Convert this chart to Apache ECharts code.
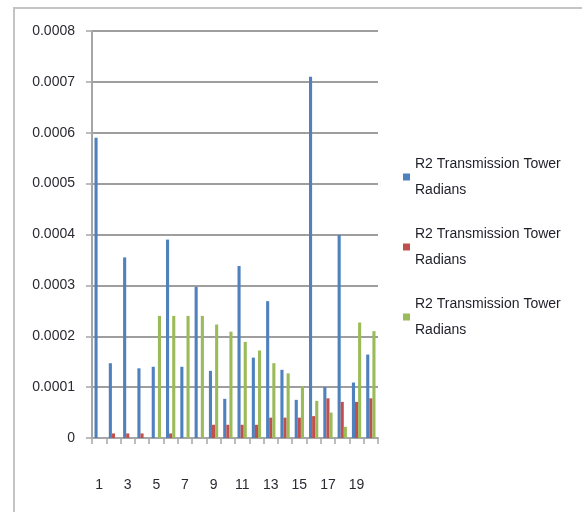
<!DOCTYPE html>
<html>
<head>
<meta charset="utf-8">
<script src="https://cdn.jsdelivr.net/npm/echarts@6/dist/echarts.min.js"></script>
<style>
  html, body { margin: 0; padding: 0; background: #ffffff; }
  #chart { width: 582px; height: 512px; }
</style>
</head>
<body>
<div id="chart"></div>
<script>
// Tower numbers along the x axis
const categories = ['1','2','3','4','5','6','7','8','9','10','11','12','13','14','15','16','17','18','19','20'];

// Rotation (radians) for each of the three measurement sets
const seriesBlue = [0.00059, 0.000147, 0.000355, 0.000137, 0.00014, 0.00039, 0.00014, 0.000297, 0.000132, 0.000077,
                    0.000338, 0.000158, 0.000269, 0.000134, 0.000075, 0.00071, 0.0001, 0.000399, 0.000109, 0.000164];
const seriesRed = [0, 0.000009, 0.000009, 0.000009, 0, 0.000009, 0, 0, 0.000026, 0.000026,
                   0.000026, 0.000026, 0.00004, 0.00004, 0.00004, 0.000043, 0.000078, 0.000071, 0.000071, 0.000078];
const seriesGreen = [0, 0, 0, 0, 0.00024, 0.00024, 0.00024, 0.00024, 0.000223, 0.000209,
                     0.000189, 0.000172, 0.000147, 0.000127, 0.000102, 0.000073, 0.00005, 0.000022, 0.000227, 0.00021];

const legendLabel = 'R2 Transmission Tower\nRadians';
const seriesIds = ['set1', 'set2', 'set3'];

const FONT = "'Liberation Sans', Arial, sans-serif";
const colors = ['#4F81BD', '#C0504D', '#9BBB59'];

const chart = echarts.init(document.getElementById('chart'), null, { renderer: 'canvas' });

function legendAt(idx, top) {
  return {
    data: [seriesIds[idx]],
    left: 403,
    top: top,
    padding: 0,
    icon: 'rect',
    itemWidth: 7,
    itemHeight: 7,
    selectedMode: false,
    formatter: function () { return legendLabel; },
    textStyle: {
      fontFamily: FONT,
      fontSize: 14,
      color: '#1f1f2a',
      lineHeight: 26,
      padding: [26, 0, 0, 0]
    }
  };
}

chart.setOption({
  backgroundColor: '#ffffff',
  animation: false,
  color: colors,
  graphic: [{
    type: 'rect',
    shape: { x: 14, y: 8, width: 700, height: 700 },
    style: { fill: 'none', stroke: '#c4c4c4', lineWidth: 2 },
    silent: true
  }],
  legend: [legendAt(0, 138), legendAt(1, 208), legendAt(2, 278)],
  grid: { left: 92, right: 204, top: 31, bottom: 74 },
  xAxis: {
    type: 'category',
    data: categories,
    boundaryGap: true,
    axisLine: { show: true, lineStyle: { color: '#a6a6a6', width: 2 } },
    axisTick: { show: true, interval: 0, length: 6, lineStyle: { color: '#a6a6a6', width: 1.5 } },
    axisLabel: {
      interval: 1,
      margin: 40,
      fontFamily: FONT,
      fontSize: 14,
      color: '#2a2a33'
    },
    splitLine: { show: false }
  },
  yAxis: {
    type: 'value',
    min: 0,
    max: 0.0008,
    interval: 0.0001,
    axisLine: { show: true, lineStyle: { color: '#a6a6a6', width: 2 } },
    axisTick: { show: true, length: 6, lineStyle: { color: '#a6a6a6', width: 1.5 } },
    axisLabel: {
      margin: 17,
      fontFamily: FONT,
      fontSize: 14,
      color: '#2a2a33',
      formatter: function (v) { return v === 0 ? '0' : v.toFixed(4); }
    },
    splitLine: { show: true, lineStyle: { color: '#9e9e9e', width: 2 } }
  },
  series: [
    { name: seriesIds[0], type: 'bar', data: seriesBlue, barGap: '0%', barCategoryGap: '35%' },
    { name: seriesIds[1], type: 'bar', data: seriesRed, barGap: '0%', barCategoryGap: '35%' },
    { name: seriesIds[2], type: 'bar', data: seriesGreen, barGap: '0%', barCategoryGap: '35%' }
  ]
});
</script>
</body>
</html>
